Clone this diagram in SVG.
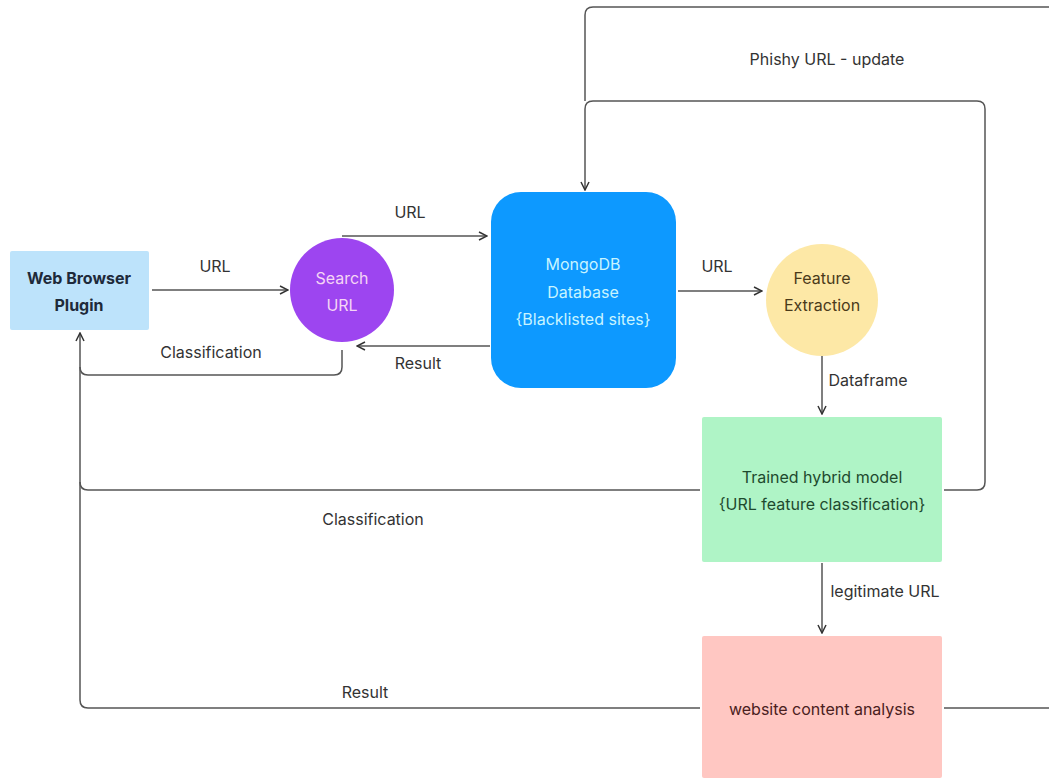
<svg xmlns="http://www.w3.org/2000/svg" width="1049" height="778" viewBox="0 0 1049 778">
<defs>
<marker id="arr" viewBox="0 0 10 10" refX="9" refY="5" markerWidth="10" markerHeight="10" markerUnits="userSpaceOnUse" orient="auto">
<path d="M1,1 L9,5 L1,9" fill="none" stroke="#333" stroke-width="1.5"/>
</marker>
<style>
.t{font-family:Inter,"Liberation Sans",sans-serif;font-size:16px;text-anchor:middle}
.lbl{fill:#333}
.ln{fill:none;stroke:#555;stroke-width:1.5}
</style>
</defs>
<rect width="1049" height="778" fill="#fff"/>
<g id="connectors">
<path class="ln" d="M152,290 H288" marker-end="url(#arr)"/>
<path class="ln" d="M342,236 H487" marker-end="url(#arr)"/>
<path class="ln" d="M490,346 H357" marker-end="url(#arr)"/>
<path class="ln" d="M342,350 V367 Q342,375 334,375 H88 Q80,375 80,367"/>
<path class="ln" d="M678,291 H762" marker-end="url(#arr)"/>
<path class="ln" d="M822,352 V414" marker-end="url(#arr)"/>
<path class="ln" d="M822,563 V633" marker-end="url(#arr)"/>
<path class="ln" d="M700,490 H88 Q80,490 80,482"/>
<path class="ln" d="M700,708 H88 Q80,708 80,700 V333" marker-end="url(#arr)"/>
<path class="ln" d="M944,490 H977 Q985,490 985,482 V109 Q985,101 977,101 H593 Q585,101 585,109 V190" marker-end="url(#arr)"/>
<path class="ln" d="M944,708 H1049"/>
<path class="ln" d="M1049,7 H593 Q585,7 585,15 V101"/>
<text class="t lbl" x="215" y="272">URL</text>
<text class="t lbl" x="410" y="218">URL</text>
<text class="t lbl" x="418" y="369">Result</text>
<text class="t lbl" x="211" y="358">Classification</text>
<text class="t lbl" x="717" y="272">URL</text>
<text class="t lbl" x="868" y="386">Dataframe</text>
<text class="t lbl" x="885" y="597">legitimate URL</text>
<text class="t lbl" x="373" y="525">Classification</text>
<text class="t lbl" x="365" y="698">Result</text>
<text class="t lbl" x="827" y="65">Phishy URL - update</text>
</g>
<g id="plugin">
<rect x="10" y="251" width="139" height="79" rx="2" fill="#bde3fb"/>
<text class="t" x="79" y="284" fill="#1e2a3a" font-weight="bold">Web Browser</text>
<text class="t" x="79" y="311" fill="#1e2a3a" font-weight="bold">Plugin</text>
</g>
<g id="search">
<circle cx="342" cy="290" r="52" fill="#9d45f0"/>
<text class="t" x="342" y="284" fill="#f5d5f5">Search</text>
<text class="t" x="342" y="311" fill="#f5d5f5">URL</text>
</g>
<g id="mongodb">
<rect x="491" y="192" width="185" height="196" rx="30" fill="#0d99ff"/>
<text class="t" x="583" y="270" fill="#c8f4ff">MongoDB</text>
<text class="t" x="583" y="298" fill="#c8f4ff">Database</text>
<text class="t" x="583" y="325" fill="#c8f4ff">{Blacklisted sites}</text>
</g>
<g id="feature">
<circle cx="822" cy="300" r="56" fill="#fde8a6"/>
<text class="t" x="822" y="284" fill="#4a3a1a">Feature</text>
<text class="t" x="822" y="311" fill="#4a3a1a">Extraction</text>
</g>
<g id="model">
<rect x="702" y="417" width="240" height="145" rx="2" fill="#aff4c6"/>
<text class="t" x="822" y="483" fill="#1e4a2e">Trained hybrid model</text>
<text class="t" x="822" y="510" fill="#1e4a2e">{URL feature classification}</text>
</g>
<g id="website">
<rect x="702" y="636" width="240" height="142" rx="2" fill="#ffc7c2"/>
<text class="t" x="822" y="715" fill="#4a2020">website content analysis</text>
</g>
</svg>
